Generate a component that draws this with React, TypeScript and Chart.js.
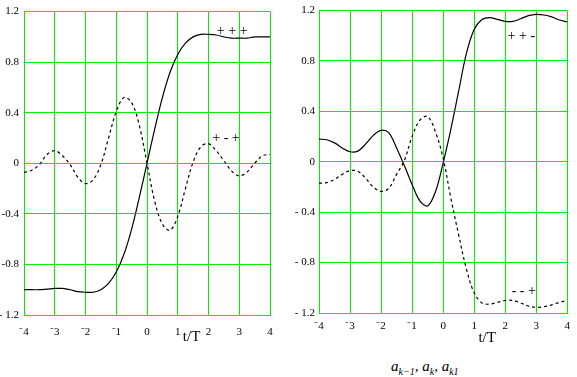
import React, { useEffect, useRef } from "react";
import { Chart, registerables } from "chart.js";

Chart.register(...registerables);

// t/T sample points
const T = [
  -4, -3.75, -3.5, -3.25, -3, -2.75, -2.5, -2.25, -2, -1.75, -1.5, -1.25, -1, -0.75, -0.5, -0.25,
  0, 0.25, 0.5, 0.75, 1, 1.25, 1.5, 1.75, 2, 2.25, 2.5, 2.75, 3, 3.25, 3.5, 3.75, 4,
];

// Left panel: pattern "+ + +" (solid)
const leftPPP = [
  -1.0, -1.0, -1.0, -0.995, -0.99, -0.99, -1.0, -1.015, -1.02, -1.02, -1.0, -0.95, -0.86, -0.72, -0.52, -0.27,
  0, 0.27, 0.52, 0.72, 0.86, 0.95, 1.0, 1.02, 1.02, 1.015, 1.0, 0.99, 0.99, 0.99, 1.0, 1.0, 1.0,
];

// Left panel: pattern "+ - +" (dashed)
const leftPMP = [
  -0.073, -0.055, -0.01, 0.07, 0.1, 0.06, -0.01, -0.11, -0.16, -0.13, -0.01, 0.2, 0.41, 0.52, 0.48, 0.3,
  0, -0.3, -0.48, -0.53, -0.42, -0.2, 0.01, 0.13, 0.155, 0.1, 0.02, -0.06, -0.1, -0.07, 0.0, 0.06, 0.07,
];

// Right panel: pattern "+ + -" (solid)
const rightPPM = [
  0.18, 0.175, 0.15, 0.11, 0.08, 0.085, 0.14, 0.21, 0.25, 0.23, 0.11, -0.03, -0.18, -0.31, -0.35, -0.24,
  -0.01, 0.26, 0.56, 0.86, 1.05, 1.13, 1.145, 1.13, 1.115, 1.115, 1.135, 1.16, 1.17, 1.165, 1.15, 1.125, 1.11,
];

// Right panel: pattern "- - +" (dashed)
const rightMMP = [
  -0.17, -0.165, -0.14, -0.1, -0.07, -0.075, -0.13, -0.2, -0.235, -0.21, -0.1, 0.01, 0.2, 0.33, 0.36, 0.24,
  0.03, -0.29, -0.58, -0.85, -1.04, -1.12, -1.13, -1.115, -1.1, -1.1, -1.12, -1.145, -1.155, -1.15, -1.135, -1.115, -1.1,
];

const xTickValues = [-4, -3, -2, -1, 0, 1, 2, 3, 4];
const xTickLabels = ["\u207B4", "\u207B3", "\u207B2", "\u207B1", "0", "1", "2", "3", "4"];
const yTickValues = [-1.2, -0.8, -0.4, 0, 0.4, 0.8, 1.2];
const leftYTickLabels = ["- 1.2", "-0.8", "-0.4", "0", "0.4", "0.8", "1.2"];
const rightYTickLabels = ["- 1.2", "- 0.8", "- 0.4", "0", "0.4", "0.8", "1.2"];

const leftAnnos = [
  { text: "+ + +", x: 2.77, y: 1.045 },
  { text: "+ - +", x: 2.57, y: 0.2 },
];
const rightAnnos = [
  { text: "+ + -", x: 2.52, y: 0.995 },
  { text: "- - +", x: 2.6, y: -1.03 },
];

const FONT = "'Liberation Serif', 'Times New Roman', serif";
const GRID = "#00ee00";

type Anno = { text: string; x: number; y: number };

type PanelProps = {
  left: number;
  width: number;
  height: number;
  padTop: number;
  padRight: number;
  yWidth: number;
  xHeight: number;
  xPad: number;
  yPad: number;
  solid: number[];
  dashed: number[];
  yLabels: string[];
  annos: Anno[];
  axisT: number;
  axisTOffset: number;
};

function Panel(p: PanelProps) {
  const ref = useRef<HTMLCanvasElement | null>(null);
  useEffect(() => {
    if (!ref.current) return;
    const textPlugin = {
      id: "annos",
      afterDatasetsDraw(chart: any) {
        const ctx = chart.ctx;
        const xs = chart.scales.x;
        const ys = chart.scales.y;
        ctx.save();
        ctx.fillStyle = "#000";
        ctx.textAlign = "center";
        ctx.textBaseline = "middle";
        ctx.font = `14px ${FONT}`;
        for (const a of p.annos) {
          ctx.fillText(a.text, xs.getPixelForValue(a.x), ys.getPixelForValue(a.y));
        }
        ctx.font = `15px ${FONT}`;
        ctx.fillText("t/T", xs.getPixelForValue(p.axisT), chart.chartArea.bottom + p.axisTOffset);
        ctx.restore();
      },
    };
    const chart = new Chart(ref.current, {
      type: "line",
      data: {
        datasets: [
          {
            data: T.map((t, i) => ({ x: t, y: p.solid[i] })),
            borderColor: "#000",
            borderWidth: 1.2,
            pointRadius: 0,
            tension: 0.35,
            fill: false,
          },
          {
            data: T.map((t, i) => ({ x: t, y: p.dashed[i] })),
            borderColor: "#000",
            borderWidth: 1.2,
            borderDash: [3, 3],
            pointRadius: 0,
            tension: 0.35,
            fill: false,
          },
        ],
      },
      options: {
        animation: false,
        responsive: false,
        devicePixelRatio: 1,
        layout: { padding: { top: p.padTop, right: p.padRight, left: 0, bottom: 0 } },
        plugins: { legend: { display: false }, tooltip: { enabled: false }, title: { display: false } },
        scales: {
          x: {
            type: "linear",
            min: -4,
            max: 4,
            afterBuildTicks: (s: any) => {
              s.ticks = xTickValues.map((v) => ({ value: v }));
            },
            afterFit: (s: any) => {
              s.height = p.xHeight;
            },
            ticks: {
              callback: (_v: any, i: number) => xTickLabels[i],
              font: { family: FONT, size: 11 },
              color: "#000",
              padding: p.xPad,
              maxRotation: 0,
              autoSkip: false,
            },
            grid: { color: GRID, lineWidth: 1, drawTicks: false },
            border: { display: true, color: GRID, width: 1 },
          },
          y: {
            type: "linear",
            min: -1.2,
            max: 1.2,
            afterBuildTicks: (s: any) => {
              s.ticks = yTickValues.map((v) => ({ value: v }));
            },
            afterFit: (s: any) => {
              s.width = p.yWidth;
            },
            ticks: {
              callback: (_v: any, i: number) => p.yLabels[i],
              font: { family: FONT, size: 11 },
              color: "#000",
              padding: p.yPad,
              autoSkip: false,
            },
            grid: { color: GRID, lineWidth: 1, drawTicks: false },
            border: { display: true, color: GRID, width: 1 },
          },
        },
      },
      plugins: [textPlugin],
    });
    return () => chart.destroy();
  }, []);
  return (
    <canvas
      ref={ref}
      width={p.width}
      height={p.height}
      style={{ position: "absolute", left: p.left, top: 0, width: p.width, height: p.height }}
    />
  );
}

export default function App() {
  return (
    <div
      style={{
        position: "absolute",
        left: 0,
        top: 0,
        width: 577,
        height: 377,
        overflow: "hidden",
        background: "#fff",
      }}
    >
      <Panel
        left={0}
        width={290}
        height={350}
        padTop={11}
        padRight={20}
        yWidth={24}
        xHeight={35}
        xPad={11}
        yPad={5}
        solid={leftPPP}
        dashed={leftPMP}
        yLabels={leftYTickLabels}
        annos={leftAnnos}
        axisT={1.45}
        axisTOffset={22}
      />
      <Panel
        left={290}
        width={287}
        height={350}
        padTop={9}
        padRight={5}
        yWidth={29}
        xHeight={37}
        xPad={7}
        yPad={4}
        solid={rightPPM}
        dashed={rightMMP}
        yLabels={rightYTickLabels}
        annos={rightAnnos}
        axisT={1.42}
        axisTOffset={25}
      />
      <div
        style={{
          position: "absolute",
          left: 391,
          top: 359,
          fontFamily: FONT,
          fontSize: 15,
          fontStyle: "italic",
          whiteSpace: "nowrap",
          lineHeight: "15px",
        }}
      >
        a<sub style={{ fontSize: 10 }}>k−1</sub>, a<sub style={{ fontSize: 10 }}>k</sub>, a
        <sub style={{ fontSize: 10 }}>k1</sub>
      </div>
    </div>
  );
}
